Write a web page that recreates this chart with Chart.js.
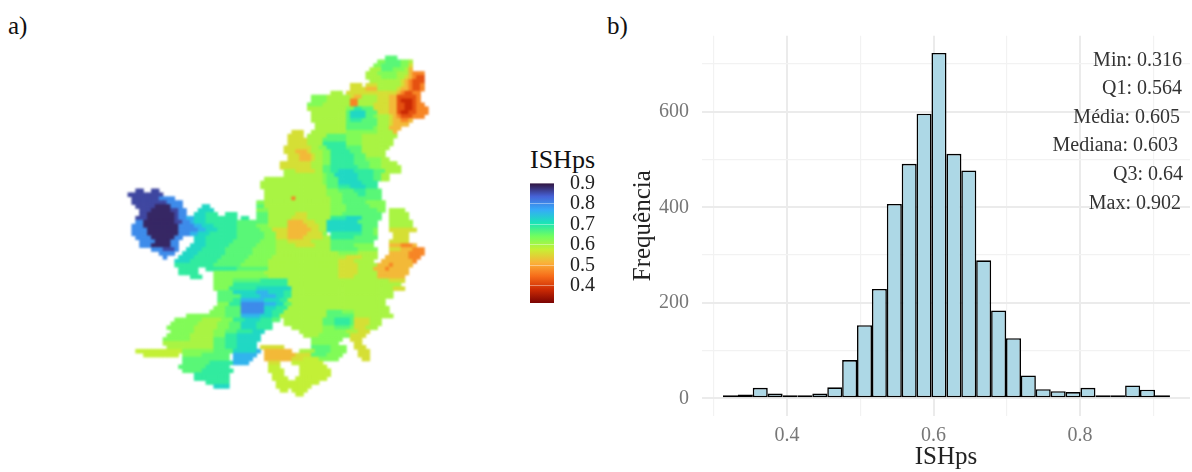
<!DOCTYPE html>
<html>
<head>
<meta charset="utf-8">
<script src="https://cdn.jsdelivr.net/npm/chart.js@4"></script>
<style>
  body { margin: 0; background: #fff; font-family: "Liberation Serif", serif; }
  #page { position: relative; width: 1192px; height: 472px; overflow: hidden; }
  .box { position: absolute; }
  .txt { position: absolute; white-space: nowrap; line-height: 1; }
  .stat { position: absolute; white-space: nowrap; line-height: 1; font-size: 20px; color: #333; transform: translateY(-50%); }
</style>
</head>
<body>
<div id="page">
  <div class="txt" style="left:8px;top:13px;font-size:25px;color:#111">a)</div>
  <div class="txt" style="left:607px;top:13px;font-size:25px;color:#111">b)</div>
  <div class="txt" style="left:530px;top:147px;font-size:26px;color:#111">ISHps</div>
  <div class="box" style="left:120px;top:48px;width:324px;height:360px;filter:blur(0.8px)"><canvas id="map"></canvas></div>
  <div class="box" style="left:520px;top:170px;width:80px;height:145px"><canvas id="bar"></canvas></div>
  <div class="box" style="left:620px;top:20px;width:572px;height:452px"><canvas id="hist"></canvas></div>
  <div id="stats"></div>
</div>
<script>
// histogram
const binCenters = [0.3229, 0.3432, 0.3635, 0.3838, 0.4042, 0.4245, 0.4448, 0.4652, 0.4855, 0.5058, 0.5261, 0.5465, 0.5668, 0.5871, 0.6074, 0.6278, 0.6481, 0.6684, 0.6888, 0.7091, 0.7294, 0.7497, 0.7701, 0.7904, 0.8107, 0.8311, 0.8514, 0.8717, 0.8920, 0.9124]
const binCounts = [3, 8, 22, 10, 6, 3, 10, 23, 80, 153, 229, 407, 491, 596, 723, 512, 477, 289, 184, 126, 48, 19, 15, 13, 22, 3, 5, 27, 18, 1]
const statLabels = ['Min: 0.316', 'Q1: 0.564', 'Média: 0.605', 'Mediana: 0.603', 'Q3: 0.64', 'Max: 0.902']
const histXTicks = [0.3, 0.4, 0.5, 0.6, 0.7, 0.8, 0.9]
const histYTicks = [0, 100, 200, 300, 400, 500, 600, 700]
const legendTicks = [0.4, 0.5, 0.6, 0.7, 0.8, 0.9]

// turbo colours, top of the legend first
const turbo = ['#30123B', '#4662D7', '#36AAF9', '#1AE4B6', '#72FE5E', '#C8EF34', '#FAB139', '#F66B19', '#CB2A04', '#7A0403']
const mapLevels = { a: 0.38, b: 0.42, c: 0.47, d: 0.52, e: 0.56, f: 0.60, g: 0.63, h: 0.66, i: 0.69, j: 0.72, k: 0.76, l: 0.80, m: 0.86, n: 0.885, p: 0.58 }

// map cells per row: "fromCol-toCol level"
const mapRows = [
  '',
  '67-69h',
  '65-66g 67-70h 71-72g 73f',
  '64-65g 66-70h 71-72g 73e',
  '63-65f 66-68h 69-71g 72f 73d',
  '62-64f 65-69g 70-72f 73d 74-76c',
  '62-65f 66-69g 70-71f 72e 73d 74c 75-76b',
  '63-70f 71e 72d 73c 74-76b',
  '58-60e 62-64e 65-70f 71e 72d 73c 74-75b 76c',
  '58-61e 62-64d 65-69f 70e 71-72d 73c 74-75b 76c',
  '53-55f 57-60e 61-69e 70d 71c 72-73b 74-75c',
  '48-51g 52-57f 58e 59-60d 61-64f 65-67e 68-69d 70-74b 75c',
  '48-51g 52-57f 58-59c 60-64f 65-67e 68-69d 70b 71-73a 74b 75c',
  '47-50g 51-57f 58-59c 60-63f 64-67e 68-69d 70-71b 72-73a 74b 75-76c',
  '47-56f 57-58g 59-60i 61-63h 64-67e 68-69d 70-71b 72-73a 74b 75-77c',
  '48-56f 57h 58-61j 62-64h 65-67e 68-69d 70b 71-72a 73-74b 75-77c',
  '48-56f 57h 58-61j 62-63h 64g 65-67f 68e 69d 70c 71-73b 74-76c',
  '48-56f 57h 58-60i 61-64h 65-67f 68e 69-70d 71-72c 73d',
  '49-56f 57-64h 65-67f 68e 69-72d',
  '49-56f 57-63h 64g 65-67f 68-70d',
  '43-45e 48-56f 57-64g 65-68f 69d',
  '42-45e 47-51f 52-56h 57-60g 61-69f',
  '42-46e 47-50f 51-56h 57-60g 61-68f',
  '42-46e 47-50f 51-56i 57-60g 61-68f',
  '41-47e 48-49f 50-51g 52-56i 57-60h 61-67f',
  '41-43e 44-46d 47e 48-50f 51-52g 53-57i 58-60h 61-66f',
  '42-44e 45-47d 48e 49-50f 51-52g 53-58i 59-61h 62-66f',
  '42-44e 45-47d 48e 49-50f 51-52g 53-58i 59-61h 62-65g 66-67f',
  '40-47e 48-50f 51-52g 53-58i 59-62h 63-65g 66-69f',
  '40-47e 48-50f 51-52h 53-59i 60-62h 63-65g 66-70f',
  '41-43f 44-48e 49-50f 51-52h 53-54i 55-58j 59-63i 64-66h 67-70f',
  '41-50f 51g 52-53h 54-59j 60-63i 64-65h 66-67f',
  '36-50f 51g 52-54h 55-59j 60-63i 64-65h 66-67f',
  '35-50f 51g 52-54h 55-60j 61-64i',
  '35-51f 52-54h 55-57i 58-61j 62-64i',
  '3-4m 7-8m 36-51f 52-54g 55-58h 59-61i 62-65h',
  '1-9m 36-51f 52-55g 56-59h 60-61i 62-65h',
  '2-8m 9-12l 36-42f 43c 44-52f 53-55g 56-65h',
  '2-10m 11-14l 34-35g 36-52f 53-55g 56-61h 62-66g',
  '3-7m 8-11n 12-14l 20-21j 34-35h 36-52f 53-56g 57-62h 63-66g',
  '4-6m 7-11n 12-13m 14-15l 19-22j 34-36g 37-52f 53-56g 57-64h 65-66g 68-71f',
  '4-5m 6-12n 13m 14-15l 18-20j 21-23i 26-28i 34-36h 37-43f 44-46e 47-52f 53-55g 56-65h 68-72f',
  '3-5m 6-12n 13m 14-15l 16-17k 18-20j 21-28i 30-31i 34-36h 37-42f 43-46e 47-52f 53-56i 57-60j 61-65h 68-72f',
  '3-4l 5-12n 13-14m 15-16l 17k 18-20j 21-28i 29-36h 37-41f 42-45d 46-48e 49-51f 52-59j 60-64h 68-73f',
  '2-4l 5-13n 14-17l 18-19k 20-22j 23-28i 29-33h 34-36g 37-41f 42-46d 47-49e 50-51f 52-60j 61-64h 68-73f',
  '2-5l 6-13n 14-18l 19-20k 21-23j 24-28i 29-34h 35-37g 38-41e 42-47d 48-49e 50-51f 52-60j 61-63h 64g 68-74e',
  '2-5l 6-13n 14-16l 17-18k 19-21j 22-28i 29-35h 36-38g 39-41e 42-46d 47-50e 51g 53-60i 61-63h 64g 69-72e',
  '3-6l 7-12n 13-14l 18-20j 21-28i 29-35h 36-38g 39-41e 42-45d 46-50e 51-52f 53-58i 59-64h 69-72e',
  '4-7l 8-11n 12-13l 18-20j 21-27i 28-34h 35-38g 39-41f 42-47e 48-52f 53-63h 68-72e',
  '4-6l 7-11n 12-13l 17-20j 21-26i 27-33h 34-38g 39-43f 44-48e 49-52f 53-58h 59-63g 68-70d 71-73c 74d',
  '7-9l 10-12m 13l 16-19j 20-25i 26-32h 33-38g 39-52f 53-59h 60-64g 68-70e 71-73d 74-76c',
  '9-12l 15-18j 19-25i 26-32h 33-38g 39-54f 55-59g 60-64f 68-72d 73-76c',
  '10l 14-17j 18-24i 25-31h 32-37g 38-56f 57-60e 61-64f 67-72d 73-75c',
  '13-16j 17-23i 24-30h 31-36g 37-54f 55-58e 59-63f 66-73d 74c',
  '13-22i 23-29h 30-36g 37-54f 55-59e 60-64f 65-67d 68c 69-73d',
  '14-18i 21-28i 29-36h 37-54f 55-59e 60-63f 64-66d 67c 68-72d',
  '14-18i 23-35g 36-54f 55-59e 60-64f 65-72d',
  '17-19i 23-36g 37-54f 55-58e 59-64f 65-71d',
  '23-27g 28-34h 35-41i 42-67f 68-71e',
  '23-27g 28-41i 42-70f',
  '23-26g 27-33i 34-42j 43-68f 69-71e',
  '24-27h 28-33j 34-36k 37-40j 41-42i 43-68f',
  '24-29h 30-34j 35-38k 39-40j 41-42i 43-68f',
  '24-27h 28-29i 30-35k 36-39j 40-41i 42-66f',
  '24-26g 27-29i 30-35l 36-38k 39-40j 41-42h 43-66f',
  '23-25g 26-29h 30-35l 36-38j 39-41i 42-67f',
  '22-25g 26-29h 30-35l 36-37j 38-40i 41-51f 52-55h 56-58g 59-67f',
  '16-25g 26-29h 30-34k 35-37j 38-39i 40-51f 52-58h 59-68f',
  '13-19g 20-24f 25-27g 28-30i 31-34j 35-37i 38-39h 41-50f 51-53h 54-57i 58h 59-62e 63-65f',
  '12-18g 19-23f 24-26g 27-29h 30-33j 34-37i 41-50f 51-53h 54-57i 58h 59-62e 63-65f',
  '11-17g 18-23f 24-26g 27-29h 30-33j 34-37i 43-50f 51-53g 54-57h 58g 59-61e 62-64f',
  '12-17g 18-22f 23-25g 26-28h 29-32i 33-35j 45-50f 51-56g 57-59f 60-62e',
  '11-16g 17-22f 23-25g 26-28i 29-34j 46-49f 50-57g 58-61e',
  '10-16g 17-22f 23-25h 26-28i 29-34j 48-55g 58-60e',
  '10-22f 23-25h 26-28i 29-33j 48-54g 59-60e',
  '11-22f 23-25h 26-28i 29-33j 35-40e 48-52h 53-56g 59-61e',
  '3-14p 15-22g 23-27h 28-33j 34k 36-42d 45-48f 49-52h 53-56g 60-62e',
  '5-13p 15-19g 20-26h 28-33k 36-43d 44-47e 48-51h 52-55g 60-62e',
  '15-26h 28-32k 36-42d 43-45e 46-49p 50-54g 61-62e',
  '15-21h 22-27i 28-31k 37-39e 43-50p',
  '14-20h 21-26i 37-39p 45-51p',
  '15-19h 20-27i 37-40p 45-52p',
  '18-26i 38-40p 45-52p',
  '18-26i 38-41p 44-51p',
  '21-26i 39-42p 43-49p',
  '23-26j 39-47p',
  '40-41p 43-46p',
  '44-45p'
]

Chart.defaults.font.family = '"Liberation Serif", serif'
Chart.defaults.animation = false
Chart.defaults.responsive = true
Chart.defaults.maintainAspectRatio = false
Chart.defaults.plugins.legend.display = false
Chart.defaults.plugins.tooltip.enabled = false

const vMin = 0.316
const vMax = 0.902

function hex(c) {
  return [1, 3, 5].map(i => parseInt(c.slice(i, i + 2), 16))
}
function colourFor(v) {
  const t = Math.min(1, Math.max(0, (vMax - v) / (vMax - vMin))) * (turbo.length - 1)
  const i = Math.min(turbo.length - 2, Math.floor(t))
  const a = hex(turbo[i])
  const b = hex(turbo[i + 1])
  const f = t - i
  return `rgb(${a.map((x, k) => Math.round(x + (b[k] - x) * f)).join(',')})`
}

// panel a: one square point per map cell
const mapCells = []
mapRows.forEach((row, r) => {
  row.split(' ').filter(Boolean).forEach(span => {
    const m = span.match(/^(\d+)(?:-(\d+))?([a-p])$/)
    const from = +m[1]
    const to = m[2] ? +m[2] : from
    for (let c = from; c <= to; c++) mapCells.push({ x: c, y: r, v: mapLevels[m[3]] })
  })
})

new Chart(document.getElementById('map'), {
  type: 'scatter',
  data: {
    datasets: [{
      data: mapCells,
      pointStyle: 'rect',
      pointRadius: 3.25,
      pointBorderWidth: 0,
      pointBackgroundColor: mapCells.map(c => colourFor(c.v))
    }]
  },
  options: {
    layout: { padding: 0 },
    scales: {
      x: { display: false, min: -0.5, max: 80.5 },
      y: { display: false, min: -0.5, max: 89.5, reverse: true }
    }
  }
})

// colour bar
new Chart(document.getElementById('bar'), {
  type: 'bar',
  data: {
    labels: ['ISHps'],
    datasets: [{
      data: [[vMin, vMax]],
      barPercentage: 1,
      categoryPercentage: 1,
      backgroundColor: ctx => {
        const area = ctx.chart.chartArea
        if (!area) return turbo[4]
        const g = ctx.chart.ctx.createLinearGradient(0, area.top, 0, area.bottom)
        turbo.forEach((c, i) => g.addColorStop(i / (turbo.length - 1), c))
        return g
      }
    }]
  },
  options: {
    layout: { padding: { left: 10, top: 13, bottom: 12 } },
    scales: {
      x: { display: false },
      y: {
        position: 'right',
        min: vMin,
        max: vMax,
        afterFit: s => { s.width = 46; s.paddingTop = 0; s.paddingBottom = 0 },
        afterBuildTicks: s => { s.ticks = legendTicks.map(value => ({ value })) },
        border: { display: false },
        grid: {
          drawTicks: false,
          z: 1,
          color: 'rgba(255,255,255,0.4)',
          lineWidth: 1
        },
        ticks: { padding: 16, autoSkip: false, color: '#222', font: { size: 20 }, callback: v => v.toFixed(1) }
      }
    }
  }
})

// panel b
const isEven = (c, step) => c.tick && Math.round(c.tick.value / step) % 2 === 0
new Chart(document.getElementById('hist'), {
  type: 'bar',
  data: {
    datasets: [{
      data: binCenters.map((x, i) => ({ x, y: binCounts[i] })),
      backgroundColor: '#ADD8E6',
      borderColor: '#000',
      borderWidth: 1.6,
      borderSkipped: false,
      minBarLength: 3,
      barPercentage: 1.01,
      categoryPercentage: 1
    }]
  },
  options: {
    layout: { padding: { top: 15.8, right: 2 } },
    scales: {
      x: {
        type: 'linear',
        offset: false,
        min: 0.284,
        max: 0.95,
        afterFit: s => { s.height = 56.4; s.paddingLeft = 0; s.paddingRight = 0 },
        afterBuildTicks: s => { s.ticks = histXTicks.map(value => ({ value })) },
        border: { display: false },
        grid: {
          offset: false,
          drawTicks: false,
          color: c => isEven(c, 0.1) ? '#ebebeb' : '#f2f2f2',
          lineWidth: c => isEven(c, 0.1) ? 2 : 1.2
        },
        ticks: {
          autoSkip: false,
          maxRotation: 0,
          padding: 8,
          color: '#777',
          font: { size: 20 },
          callback: v => Math.round(v / 0.1) % 2 === 0 ? v.toFixed(1) : ''
        },
        title: { display: true, text: 'ISHps', color: '#222', font: { size: 25 }, padding: { top: 0, bottom: 0 } }
      },
      y: {
        min: -36.15,
        max: 759,
        afterFit: s => { s.width = 82; s.paddingTop = 0; s.paddingBottom = 0 },
        afterBuildTicks: s => { s.ticks = histYTicks.map(value => ({ value })) },
        border: { display: false },
        grid: {
          drawTicks: false,
          color: c => isEven(c, 100) ? '#ebebeb' : '#f2f2f2',
          lineWidth: c => isEven(c, 100) ? 2 : 1.2
        },
        ticks: {
          autoSkip: false,
          padding: 13,
          color: '#777',
          font: { size: 20 },
          callback: v => v % 200 === 0 ? String(v) : ''
        },
        title: { display: true, text: 'Frequência', color: '#222', font: { size: 25 }, padding: { top: 8, bottom: 0 } }
      }
    }
  }
})

// statistics block, right aligned as in the original
const statRight = [10, 10, 12, 14, 9, 11]
const statMiddle = [59, 87, 116, 144, 173, 202]
statLabels.forEach((s, i) => {
  const el = document.createElement('div')
  el.className = 'stat'
  el.textContent = s
  el.style.right = statRight[i] + 'px'
  el.style.top = statMiddle[i] + 'px'
  document.getElementById('stats').appendChild(el)
})
</script>
</body>
</html>
